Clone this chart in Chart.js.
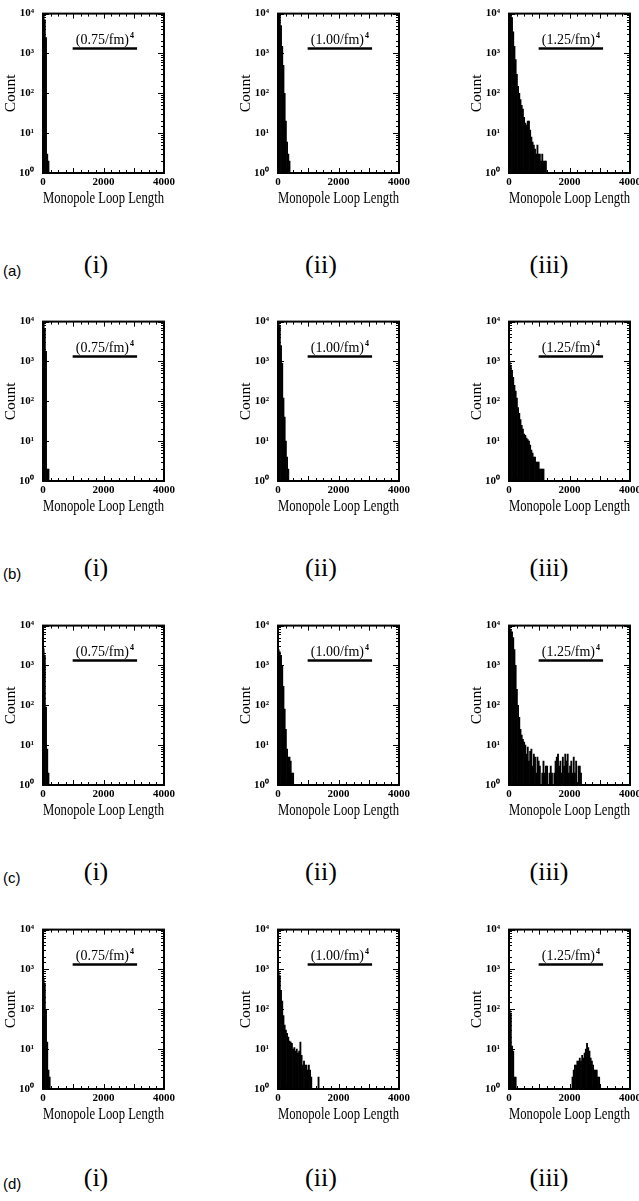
<!DOCTYPE html>
<html>
<head>
<meta charset="utf-8">
<script src="https://cdn.jsdelivr.net/npm/chart.js@4.4.1/dist/chart.umd.min.js"></script>
<style>
  body { margin: 0; width: 639px; height: 1201px; overflow: hidden; background: #fff; position: relative; }
  canvas { position: absolute; }
  .row { position: absolute; font: 15px "Liberation Sans", sans-serif; transform: translateY(-50%); }
  .col { position: absolute; font: 26px "Liberation Serif", serif; transform: translate(-50%, -50%); }
</style>
</head>
<body>
<script>
const binWidth = 40
const xTickLabels = [0, 2000, 4000]
const yTickLabels = ['10⁰', '10¹', '10²', '10³', '10⁴']
const densities = ['0.75', '1.00', '1.25']
const rowLabels = ['(a)', '(b)', '(c)', '(d)']
const colLabels = ['(i)', '(ii)', '(iii)']

// counts per bin of 40, first bin starts at 0
const a1 = [9500, 7000, 2500, 3, 2]
const a2 = [9500, 9000, 5000, 1500, 500, 100, 20, 6, 3, 2]
const a3 = [9500, 9000, 8000, 3500, 1500, 700, 300, 150, 100, 70, 50, 40, 25, 18, 16, 20, 20, 12, 8, 6, 5, 4, 3, 5, 3, 3, 2, 3, 2, 2, 2]

const b1 = [9500, 6500, 1800, 2, 2]
const b2 = [9500, 8000, 2500, 900, 120, 40, 10, 4, 2]
const b3 = [1000, 800, 600, 400, 250, 180, 120, 70, 50, 35, 25, 20, 15, 14, 12, 11, 10, 8, 6, 5, 4, 4, 3, 3, 3, 2, 2, 2, 2]

const c1 = [2600, 1800, 90, 8, 2]
const c2 = [2500, 2200, 1800, 1000, 300, 80, 25, 8, 5, 5, 4, 2, 2]
const c3 = [9500, 8000, 7000, 5000, 2500, 1000, 250, 100, 50, 25, 18, 14, 12,
  10, 6, 9, 4, 7, 8, 3, 6, 5, 2, 5, 4, 3, 1, 2, 4, 2, 3, 3, 1, 2, 3, 2, 1, 2, 4,
  5, 6, 3, 4, 2, 5, 3, 6, 4, 6, 2, 3, 4, 2, 5, 2, 4, 1, 3, 3, 2]

const d1 = [600, 450, 100, 15, 3, 2]
const d2 = [900, 700, 300, 160, 70, 40, 30, 25, 20, 16, 15, 14, 10, 11, 9, 10, 8, 9, 15, 7, 4, 5, 4, 4, 3, 4, 3, 2, 0, 0, 0, 0, 0, 2]
const d3Low = [100, 80, 12, 9, 2, 2]
const d3High = [2, 3, 4, 4, 5, 5, 6, 5, 7, 6, 8, 10, 14, 11, 9, 6, 5, 4, 3, 3, 3, 2, 2] // from bin 52 (2080)

function bins(counts, first) {
  return counts
    .map((c, i) => ({ x: (first + i + 0.5) * binWidth, y: c }))
    .filter(p => p.y > 0)
}

const panels = [
  [bins(a1, 0), bins(a2, 0), bins(a3, 0)],
  [bins(b1, 0), bins(b2, 0), bins(b3, 0)],
  [bins(c1, 0), bins(c2, 0), bins(c3, 0)],
  [bins(d1, 0), bins(d2, 0), bins(d3Low, 0).concat(bins(d3High, 52))]
]

// layout of the plot boxes on the page
const colLeft = [43, 278, 509]
const rowTop = [6, 314, 618, 922]
const rowLabelY = [270, 573, 877, 1183]
const colLabelX = [96, 321, 549]
const plotW = 121
const plotH = 167
const yAxisW = 41
const xAxisH = 36
const padTop = 8
const padRight = 14

const serif = '"Liberation Serif", "Times New Roman", serif'

// inward ticks on all four sides, frame and the density key
const framePlugin = {
  id: 'density',
  afterDatasetsDraw (chart, args, opts) {
    const { ctx, chartArea: a, scales: { x, y } } = chart
    ctx.save()
    ctx.strokeStyle = '#000'
    ctx.lineWidth = 1
    const line = (x1, y1, x2, y2) => {
      ctx.beginPath(); ctx.moveTo(x1, y1); ctx.lineTo(x2, y2); ctx.stroke()
    }
    x.ticks.forEach(t => {
      const px = Math.round(x.getPixelForValue(t.value)) + 0.5
      const len = t.value % 1000 === 0 ? 5 : 3
      line(px, a.bottom, px, a.bottom - len)
      line(px, a.top, px, a.top + len)
    })
    y.ticks.forEach(t => {
      const py = Math.round(y.getPixelForValue(t.value)) + 0.5
      const e = Math.round(Math.log10(t.value))
      const len = Math.abs(t.value - Math.pow(10, e)) < 1e-6 ? 6 : 3
      line(a.left, py, a.left + len, py)
      line(a.right, py, a.right - len, py)
    })
    ctx.lineWidth = 2
    ctx.strokeRect(a.left, a.top, a.right - a.left, a.bottom - a.top)

    // key: label with superscript 4 above a thick line
    const x1 = x.getPixelForValue(980)
    const x2 = x.getPixelForValue(3110)
    ctx.lineWidth = 2.5
    line(x1, a.top + 35, x2, a.top + 35)
    ctx.fillStyle = '#000'
    ctx.textBaseline = 'alphabetic'
    ctx.font = '14px ' + serif
    const main = opts.label
    const wMain = ctx.measureText(main).width
    ctx.font = 'bold 8px ' + serif
    const wSup = ctx.measureText('4').width
    const start = (x1 + x2) / 2 - (wMain + wSup + 1) / 2
    ctx.font = '14px ' + serif
    ctx.fillText(main, start, a.top + 30)
    ctx.font = 'bold 8px ' + serif
    ctx.fillText('4', start + wMain + 1, a.top + 24)
    ctx.restore()
  }
}

panels.forEach((rowPanels, r) => {
  rowPanels.forEach((pts, c) => {
    const canvas = document.createElement('canvas')
    canvas.width = yAxisW + plotW + padRight
    canvas.height = padTop + plotH + xAxisH
    canvas.style.left = (colLeft[c] - yAxisW) + 'px'
    canvas.style.top = (rowTop[r] - padTop) + 'px'
    document.body.appendChild(canvas)

    new Chart(canvas, {
      type: 'bar',
      data: {
        datasets: [{
          data: pts,
          backgroundColor: '#000',
          borderWidth: 0,
          categoryPercentage: 1,
          barPercentage: 1
        }]
      },
      options: {
        responsive: false,
        animation: false,
        layout: { padding: { top: padTop, right: padRight, left: 0, bottom: 0 } },
        plugins: {
          legend: { display: false },
          tooltip: { enabled: false },
          density: { label: '(' + densities[c] + '/fm)' }
        },
        scales: {
          x: {
            type: 'linear',
            min: 0,
            max: 4000,
            offset: false,
            grid: { display: false, drawTicks: false },
            border: { display: false },
            ticks: {
              stepSize: 250,
              autoSkip: false,
              maxRotation: 0,
              minRotation: 0,
              padding: 3,
              color: '#000',
              font: { family: serif, size: 11, weight: 'bold' },
              callback: v => xTickLabels.includes(v) ? String(v) : ''
            },
            title: {
              display: true,
              text: 'Monopole Loop Length',
              color: '#000',
              padding: 0,
              font: { family: serif, size: 16.5 }
            },
            afterFit: s => { s.height = xAxisH }
          },
          y: {
            type: 'logarithmic',
            min: 1,
            max: 10000,
            grid: { display: false, drawTicks: false },
            border: { display: false },
            ticks: {
              autoSkip: false,
              padding: 9,
              color: '#000',
              font: { family: serif, size: 11, weight: 'bold' },
              callback: v => {
                const e = Math.round(Math.log10(v))
                return Math.abs(v - Math.pow(10, e)) < 1e-6 ? yTickLabels[e] : ''
              }
            },
            title: {
              display: true,
              text: 'Count',
              color: '#000',
              padding: 0,
              font: { family: serif, size: 15.5 }
            },
            afterFit: s => { s.width = yAxisW }
          }
        }
      },
      plugins: [framePlugin]
    })
  })

  const rl = document.createElement('div')
  rl.className = 'row'
  rl.textContent = rowLabels[r]
  rl.style.left = '3px'
  rl.style.top = rowLabelY[r] + 'px'
  document.body.appendChild(rl)

  colLabels.forEach((t, c) => {
    const cl = document.createElement('div')
    cl.className = 'col'
    cl.textContent = t
    cl.style.left = colLabelX[c] + 'px'
    cl.style.top = (rowLabelY[r] - 5) + 'px'
    document.body.appendChild(cl)
  })
})
</script>
</body>
</html>
